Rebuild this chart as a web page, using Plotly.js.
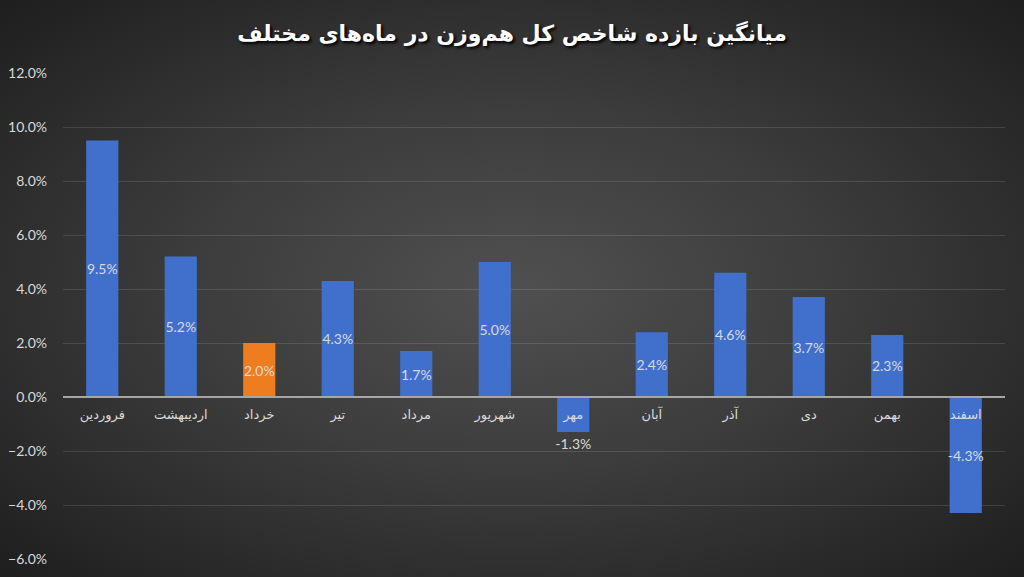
<!DOCTYPE html>
<html>
<head>
<meta charset="utf-8">
<script src="https://cdn.plot.ly/plotly-3.0.1.min.js"></script>
<style>
    html, body { margin: 0; padding: 0; }
    body {
        width: 1024px; height: 577px; overflow: hidden;
        background: radial-gradient(ellipse at 50% 50%, #505050 0%, #3c3c3c 45%, #1e1e1e 100%);
    }
    #chart { width: 1024px; height: 577px; }
</style>
</head>
<body>
<div id="chart"></div>
<script>
// months (Persian calendar) and average return per month, in percent
var months = ['فروردین', 'اردیبهشت', 'خرداد', 'تیر', 'مرداد', 'شهریور',
    'مهر', 'آبان', 'آذر', 'دی', 'بهمن', 'اسفند'];
var avgReturn = [9.5, 5.2, 2.0, 4.3, 1.7, 5.0, -1.3, 2.4, 4.6, 3.7, 2.3, -4.3];
var highlightMonth = 'خرداد';

var colors = months.map(m => m === highlightMonth ? '#ed7d1f' : '#4170cc');
var positions = avgReturn.map(v => v < 0 && v > -2 ? 'outside' : 'inside');

var trace = {
    x: months,
    y: avgReturn,
    type: 'bar',
    marker: {
        color: colors,
        line: { width: 0 }
    },
    texttemplate: '%{y:.1f}%',
    textposition: positions,
    textangle: 0,
    insidetextanchor: 'middle',
    constraintext: 'none',
    cliponaxis: false,
    textfont: { family: 'Lato, sans-serif', size: 14, color: '#d9d9d9' },
    hoverinfo: 'x+y'
};

var layout = {
    width: 1024,
    height: 577,
    paper_bgcolor: 'rgba(0,0,0,0)',
    plot_bgcolor: 'rgba(0,0,0,0)',
    margin: { l: 63, r: 19, t: 73, b: 18 },
    bargap: 0.59,
    showlegend: false,
    title: {
        text: '<b>میانگین بازده شاخص کل هم‌وزن در ماه‌های مختلف</b>',
        x: 0.5,
        xanchor: 'center',
        yref: 'container',
        y: 1 - 33 / 577,
        yanchor: 'middle',
        font: { family: 'DejaVu Sans, sans-serif', size: 22, color: '#ffffff', shadow: '2px 2px 3px #000000' }
    },
    xaxis: {
        type: 'category',
        anchor: 'free',
        position: 6 / 18,
        showline: true,
        linecolor: '#a6a6a6',
        linewidth: 2,
        showgrid: false,
        ticks: '',
        ticklabelstandoff: 5,
        tickfont: { family: 'DejaVu Sans, sans-serif', size: 13, color: '#d9d9d9' }
    },
    yaxis: {
        range: [-6, 12],
        dtick: 2,
        tickformat: '.1f',
        ticksuffix: '%',
        showgrid: true,
        gridcolor: 'rgba(255,255,255,0.12)',
        gridwidth: 1,
        zeroline: false,
        showline: false,
        ticks: '',
        ticklabelstandoff: 15,
        tickfont: { family: 'Lato, sans-serif', size: 14, color: '#d9d9d9' }
    }
};

Plotly.newPlot('chart', [trace], layout, { displayModeBar: false, staticPlot: true });
</script>
</body>
</html>
